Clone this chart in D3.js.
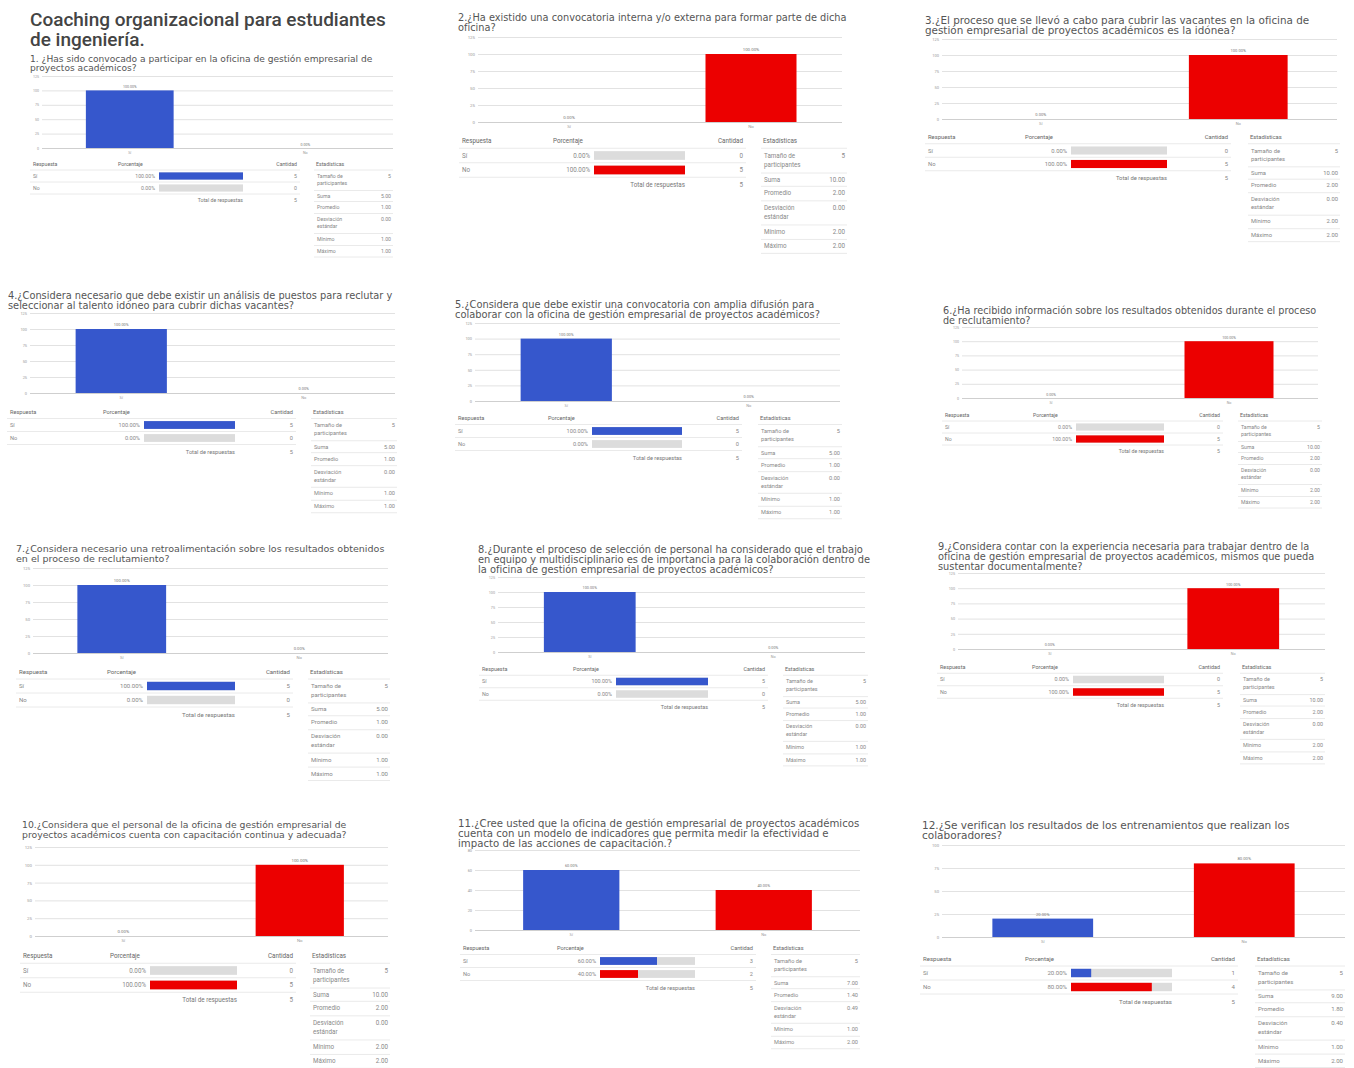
<!DOCTYPE html>
<html lang="es">
<head>
<meta charset="utf-8">
<title>Coaching organizacional para estudiantes de ingeniería</title>
<script src="https://d3js.org/d3.v7.min.js"></script>
<style>
  body { margin: 0; background: #fff; }
  text { font-family: Roboto, "Liberation Sans", Arial, sans-serif; }
  text.q { font-family: "DejaVu Sans", "Liberation Sans", sans-serif; }
</style>
</head>
<body>
<script>
// ---- data ----
const titleLines = ['Coaching organizacional para estudiantes', 'de ingeniería.']

const questions = [
  ['1. ¿Has sido convocado a participar en la oficina de gestión empresarial de', 'proyectos académicos?'],
  ['2.¿Ha existido una convocatoria interna y/o externa para formar parte de dicha', 'oficina?'],
  ['3.¿El proceso que se llevó a cabo para cubrir las vacantes en la oficina de', 'gestión empresarial de proyectos académicos es la idónea?'],
  ['4.¿Considera necesario que debe existir un análisis de puestos para reclutar y', 'seleccionar al talento idóneo para cubrir dichas vacantes?'],
  ['5.¿Considera que debe existir una convocatoria con amplia difusión para', 'colaborar con la oficina de gestión empresarial de proyectos académicos?'],
  ['6.¿Ha recibido información sobre los resultados obtenidos durante el proceso', 'de reclutamiento?'],
  ['7.¿Considera necesario una retroalimentación sobre los resultados obtenidos', 'en el proceso de reclutamiento?'],
  ['8.¿Durante el proceso de selección de personal ha considerado que el trabajo', 'en equipo y multidisciplinario es de importancia para la colaboración dentro de', 'la oficina de gestión empresarial de proyectos académicos?'],
  ['9.¿Considera contar con la experiencia necesaria para trabajar dentro de la', 'oficina de gestión empresarial de proyectos académicos, mismos que pueda', 'sustentar documentalmente?'],
  ['10.¿Considera que el personal de la oficina de gestión empresarial de', 'proyectos académicos cuenta con capacitación continua y adecuada?'],
  ['11.¿Cree usted que la oficina de gestión empresarial de proyectos académicos', 'cuenta con un modelo de indicadores que permita medir la efectividad e', 'impacto de las acciones de capacitación.?'],
  ['12.¿Se verifican los resultados de los entrenamientos que realizan los', 'colaboradores?']
]

const categories = ['Sí', 'No']

// percentage of answers per question [Sí, No]
const percents = [
  [100, 0], [0, 100], [0, 100], [100, 0], [100, 0], [0, 100],
  [100, 0], [100, 0], [0, 100], [0, 100], [60, 40], [20, 80]
]
// number of answers per question [Sí, No]
const counts = [
  [5, 0], [0, 5], [0, 5], [5, 0], [5, 0], [0, 5],
  [5, 0], [5, 0], [0, 5], [0, 5], [3, 2], [1, 4]
]
const totals = [5, 5, 5, 5, 5, 5, 5, 5, 5, 5, 5, 5]

const ticks100 = [0, 25, 50, 75, 100, 125]
const yTicks = [ticks100, ticks100, ticks100, ticks100, ticks100, ticks100,
  ticks100, ticks100, ticks100, ticks100, [0, 20, 40, 60, 80], [0, 25, 50, 75, 100]]

const statLabels = [['Tamaño de', 'participantes'], ['Suma'], ['Promedio'], ['Desviación', 'estándar'], ['Mínimo'], ['Máximo']]
const statsSi = ['5', '5.00', '1.00', '0.00', '1.00', '1.00']
const statsNo = ['5', '10.00', '2.00', '0.00', '2.00', '2.00']
const statValues = [statsSi, statsNo, statsNo, statsSi, statsSi, statsNo, statsSi, statsSi, statsNo, statsNo,
  ['5', '7.00', '1.40', '0.49', '1.00', '2.00'],
  ['5', '9.00', '1.80', '0.40', '1.00', '2.00']]

const colors = { 'Sí': '#3657cc', 'No': '#ec0000' }

// ---- layout of each screenshot panel ----
// q: [x, first line centre y, width of first line]
// c: [x0, x1, top gridline y, zero line y]
// t: table header y, row height, columns
const layout = [
  { q: [30, 59, 343],  c: [42, 393, 76, 148],   t: { h: 164, r: 12,   resp: 33,  pct: 118,  b0: 159,  b1: 243,  cant: 297,  s0: 316,  s1: 393 } },
  { q: [458, 18, 389], c: [478, 842, 37, 122],  t: { h: 141, r: 14.5, resp: 462, pct: 553,  b0: 594,  b1: 685,  cant: 743,  s0: 763,  s1: 847 } },
  { q: [925, 20, 385], c: [942, 1337, 39, 119], t: { h: 137, r: 13.5, resp: 928, pct: 1025, b0: 1071, b1: 1167, cant: 1228, s0: 1250, s1: 1340 } },
  { q: [8, 296, 385],  c: [30, 395, 313, 393],  t: { h: 412, r: 13,   resp: 10,  pct: 103,  b0: 144,  b1: 235,  cant: 293,  s0: 313,  s1: 397 } },
  { q: [455, 305, 360], c: [475, 840, 323, 401], t: { h: 418, r: 13,  resp: 458, pct: 548,  b0: 592,  b1: 682,  cant: 739,  s0: 760,  s1: 842 } },
  { q: [943, 311, 374], c: [962, 1318, 327, 398], t: { h: 415, r: 12, resp: 945, pct: 1033, b0: 1076, b1: 1164, cant: 1220, s0: 1240, s1: 1322 } },
  { q: [16, 549, 369], c: [33, 388, 568, 653],  t: { h: 672, r: 14,   resp: 19,  pct: 107,  b0: 147,  b1: 235,  cant: 290,  s0: 310,  s1: 390 } },
  { q: [478, 550, 385], c: [498, 865, 577, 652], t: { h: 669, r: 12.5, resp: 482, pct: 573, b0: 616,  b1: 708,  cant: 765,  s0: 785,  s1: 868 } },
  { q: [938, 547, 372], c: [958, 1325, 573, 649], t: { h: 667, r: 12.5, resp: 940, pct: 1032, b0: 1073, b1: 1164, cant: 1220, s0: 1242, s1: 1325 } },
  { q: [22, 825, 325], c: [35, 388, 847, 936],  t: { h: 956, r: 14.5, resp: 23,  pct: 110,  b0: 150,  b1: 237,  cant: 293,  s0: 312,  s1: 390 } },
  { q: [458, 823, 402], c: [475, 860, 850, 930], t: { h: 948, r: 13,  resp: 463, pct: 557,  b0: 600,  b1: 695,  cant: 753,  s0: 773,  s1: 860 } },
  { q: [922, 825, 368], c: [942, 1345, 845, 937], t: { h: 959, r: 14, resp: 923, pct: 1025, b0: 1071, b1: 1172, cant: 1235, s0: 1257, s1: 1345 } }
]

const width = 1354
const height = 1068

const svg = d3.select('body').append('svg')
  .attr('width', width)
  .attr('height', height)

// fit a block of lines so the first one has the given width
function fitLines(g, lines, x, y, targetW, color, weight, spacing, cls) {
  const base = 10
  const t = g.append('text')
    .attr('class', cls)
    .attr('x', x).attr('y', y)
    .attr('font-size', base)
    .attr('font-weight', weight)
    .attr('fill', color)
    .text(lines[0])
  const fs = base * targetW / t.node().getComputedTextLength()
  t.remove()
  lines.forEach((line, i) => {
    g.append('text')
      .attr('class', cls)
      .attr('x', x)
      .attr('y', y + i * fs * spacing)
      .attr('dy', '0.35em')
      .attr('font-size', fs)
      .attr('font-weight', weight)
      .attr('fill', color)
      .text(line)
  })
}

// main title
fitLines(svg.append('g'), titleLines, 30, 19, 356, '#444', 500, 1.08, 't')

const pctFmt = d3.format('.2f')

layout.forEach((L, qi) => {
  const g = svg.append('g')
  const [cx0, cx1, cyTop, cyZero] = L.c
  const T = L.t
  const s = T.r / 12

  fitLines(g, questions[qi], L.q[0], L.q[1], L.q[2], '#555', 400, 1.0, 'q')

  // bar chart
  const ticks = yTicks[qi]
  const yScale = d3.scaleLinear()
    .domain([0, d3.max(ticks)])
    .range([cyZero, cyTop])
  const xScale = d3.scaleBand()
    .domain(categories)
    .range([cx0, cx1])
    .paddingInner(0.5)
    .paddingOuter(0.25)

  const yAxis = d3.axisLeft(yScale)
    .tickValues(ticks)
    .tickSize(-(cx1 - cx0))
    .tickPadding(3)
    .tickFormat(d => d)
  const ya = g.append('g')
    .attr('transform', `translate(${cx0},0)`)
    .call(yAxis)
  ya.select('.domain').remove()
  ya.selectAll('.tick line').attr('stroke', '#e2e2e2')
  ya.selectAll('.tick text').attr('font-size', 3.6 * s).attr('fill', '#999')
  ya.selectAll('.tick').filter(d => d === 0).select('line').attr('stroke', '#cfcfcf')

  const xAxis = d3.axisBottom(xScale).tickSize(0).tickPadding(3)
  const xa = g.append('g')
    .attr('transform', `translate(0,${cyZero})`)
    .call(xAxis)
  xa.select('.domain').remove()
  xa.selectAll('.tick text').attr('font-size', 3.6 * s).attr('fill', '#999')

  const vals = categories.map((c, i) => ({ cat: c, v: percents[qi][i] }))
  g.selectAll('rect.bar')
    .data(vals)
    .enter()
    .append('rect')
    .attr('class', 'bar')
    .attr('x', d => xScale(d.cat))
    .attr('width', xScale.bandwidth())
    .attr('y', d => yScale(d.v))
    .attr('height', d => yScale(0) - yScale(d.v))
    .attr('fill', d => colors[d.cat])
  g.selectAll('text.val')
    .data(vals)
    .enter()
    .append('text')
    .attr('class', 'val')
    .attr('x', d => xScale(d.cat) + xScale.bandwidth() / 2)
    .attr('y', d => yScale(d.v) - 2.5 * s)
    .attr('text-anchor', 'middle')
    .attr('font-size', 3.6 * s)
    .attr('fill', '#777')
    .text(d => pctFmt(d.v) + '%')

  // response table
  const fs = 5.2 * s
  const tText = (x, y, str, anchor, color) => g.append('text')
    .attr('x', x).attr('y', y).attr('dy', '0.35em')
    .attr('font-size', fs)
    .attr('text-anchor', anchor || 'start')
    .attr('fill', color || '#888')
    .text(str)
  const hLine = (x0, x1, y) => g.append('line')
    .attr('x1', x0).attr('x2', x1).attr('y1', y).attr('y2', y)
    .attr('stroke', '#e4e4e4').attr('stroke-width', 0.8)

  tText(T.resp, T.h, 'Respuesta', 'start', '#666')
  tText(T.pct, T.h, 'Porcentaje', 'start', '#666')
  tText(T.cant, T.h, 'Cantidad', 'end', '#666')
  tText(T.s0, T.h, 'Estadísticas', 'start', '#666')
  hLine(T.resp - 3, T.cant + 3, T.h + T.r / 2)

  const barScale = d3.scaleLinear().domain([0, 100]).range([T.b0, T.b1])
  const barH = 0.6 * T.r
  categories.forEach((c, i) => {
    const y = T.h + T.r * (i + 1)
    tText(T.resp, y, c)
    tText(T.b0 - 4, y, pctFmt(percents[qi][i]) + '%', 'end')
    g.append('rect')
      .attr('x', barScale(0)).attr('width', barScale(100) - barScale(0))
      .attr('y', y - barH / 2).attr('height', barH)
      .attr('fill', '#dcdcdc')
    g.append('rect')
      .attr('x', barScale(0)).attr('width', barScale(percents[qi][i]) - barScale(0))
      .attr('y', y - barH / 2).attr('height', barH)
      .attr('fill', colors[c])
    tText(T.cant, y, counts[qi][i], 'end')
    hLine(T.resp - 3, T.cant + 3, y + T.r / 2)
  })
  const yTot = T.h + T.r * 3.05
  tText(T.b1, yTot, 'Total de respuestas', 'end', '#777')
  tText(T.cant, yTot, totals[qi], 'end')

  // statistics column
  const offs = [0, 20, 31, 43, 63, 75, 86.5]
  const row1 = T.h + T.r
  hLine(T.s0 - 2, T.s1, T.h + T.r / 2)
  statLabels.forEach((lab, k) => {
    const y = row1 + offs[k] * s
    lab.forEach((l, j) => tText(T.s0 + 1, y + j * 7.5 * s, l))
    tText(T.s1 - 2, y, statValues[qi][k], 'end')
    hLine(T.s0 - 2, T.s1, row1 + (offs[k + 1] - 5.5) * s)
  })
})
</script>
</body>
</html>
